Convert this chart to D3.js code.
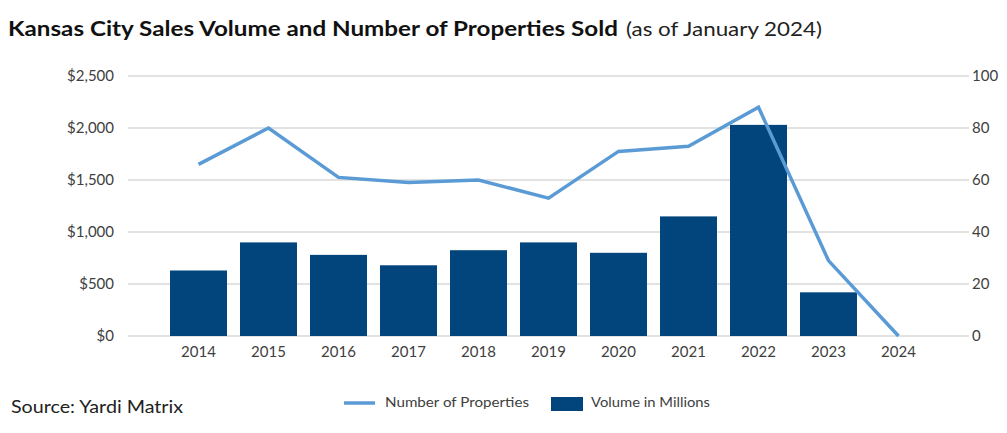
<!DOCTYPE html>
<html>
<head>
<meta charset="utf-8">
<style>
  body { margin: 0; background: #fff; }
  svg { display: block; font-family: Lato, "Noto Sans", sans-serif; }
</style>
</head>
<body>
<svg id="chart" width="1007" height="433"></svg>
<script src="https://cdn.jsdelivr.net/npm/d3@7"></script>
<script>
  // data
  const years = ['2014', '2015', '2016', '2017', '2018', '2019', '2020', '2021', '2022', '2023', '2024'];
  const volume = [630, 900, 780, 680, 825, 900, 800, 1150, 2030, 420, 0];
  const properties = [66, 80, 61, 59, 60, 53, 71, 73, 88, 29, 0];
  const leftTicks = [0, 500, 1000, 1500, 2000, 2500];
  const rightTicks = [0, 20, 40, 60, 80, 100];

  const barColor = '#02457d';
  const lineColor = '#5b9bd5';

  const svg = d3.select('#chart');

  const x = d3.scaleBand()
      .domain(years)
      .range([163.5, 933.5])
      .paddingInner(0.186)
      .paddingOuter(0.093);

  const yLeft = d3.scaleLinear().domain([0, 2500]).range([336, 76]);
  const yRight = d3.scaleLinear().domain([0, 100]).range([336, 76]);

  const gridX0 = 128, gridX1 = 969;

  // gridlines
  svg.append('g')
      .selectAll('line')
      .data(leftTicks)
      .join('line')
      .attr('x1', gridX0).attr('x2', gridX1)
      .attr('y1', d => yLeft(d)).attr('y2', d => yLeft(d))
      .attr('stroke', '#d9d9d9')
      .attr('stroke-width', 1.3);

  // axes
  const axL = svg.append('g')
      .attr('transform', `translate(${gridX0},0)`)
      .call(d3.axisLeft(yLeft).tickValues(leftTicks).tickSize(0).tickPadding(14)
          .tickFormat(d => '$' + d3.format(',')(d)));
  const axR = svg.append('g')
      .attr('transform', `translate(${gridX1},0)`)
      .call(d3.axisRight(yRight).tickValues(rightTicks).tickSize(0).tickPadding(3));
  const axB = svg.append('g')
      .attr('transform', 'translate(0,336)')
      .call(d3.axisBottom(x).tickSize(0).tickPadding(10));

  [axL, axR, axB].forEach(g => {
    g.select('.domain').remove();
    g.selectAll('text')
        .attr('font-family', 'Lato, "Noto Sans", sans-serif')
        .attr('font-size', 15)
        .attr('fill', '#404040');
  });

  // bars
  svg.append('g')
      .selectAll('rect')
      .data(years)
      .join('rect')
      .attr('x', d => x(d))
      .attr('width', x.bandwidth())
      .attr('y', (d, i) => yLeft(volume[i]))
      .attr('height', (d, i) => yLeft(0) - yLeft(volume[i]))
      .attr('fill', barColor);

  // number of properties line
  const line = d3.line()
      .x((d, i) => x(years[i]) + x.bandwidth() / 2)
      .y(d => yRight(d));

  svg.append('path')
      .datum(properties)
      .attr('fill', 'none')
      .attr('stroke', lineColor)
      .attr('stroke-width', 3.5)
      .attr('d', line);

  // title (reference font is wider than Lato, so stretch to its width)
  svg.append('text')
      .attr('x', 8).attr('y', 36)
      .attr('font-size', 20).attr('font-weight', 'bold')
      .attr('fill', '#111')
      .attr('textLength', 610).attr('lengthAdjust', 'spacingAndGlyphs')
      .text('Kansas City Sales Volume and Number of Properties Sold');
  svg.append('text')
      .attr('x', 626).attr('y', 36)
      .attr('font-size', 20)
      .attr('fill', '#222')
      .attr('textLength', 196).attr('lengthAdjust', 'spacingAndGlyphs')
      .text('(as of January 2024)');

  // source
  svg.append('text')
      .attr('x', 11).attr('y', 413)
      .attr('font-size', 17)
      .attr('fill', '#222')
      .attr('textLength', 172).attr('lengthAdjust', 'spacingAndGlyphs')
      .text('Source: Yardi Matrix');

  // legend
  const lg = svg.append('g').attr('font-size', 13).attr('fill', '#404040');
  lg.append('line')
      .attr('x1', 344).attr('x2', 375).attr('y1', 403).attr('y2', 403)
      .attr('stroke', lineColor).attr('stroke-width', 3.5);
  lg.append('text').attr('x', 385).attr('y', 407)
      .attr('textLength', 144).attr('lengthAdjust', 'spacingAndGlyphs')
      .text('Number of Properties');
  lg.append('rect')
      .attr('x', 551).attr('y', 397).attr('width', 32).attr('height', 14)
      .attr('fill', barColor);
  lg.append('text').attr('x', 591).attr('y', 407)
      .attr('textLength', 119).attr('lengthAdjust', 'spacingAndGlyphs')
      .text('Volume in Millions');
</script>
</body>
</html>
